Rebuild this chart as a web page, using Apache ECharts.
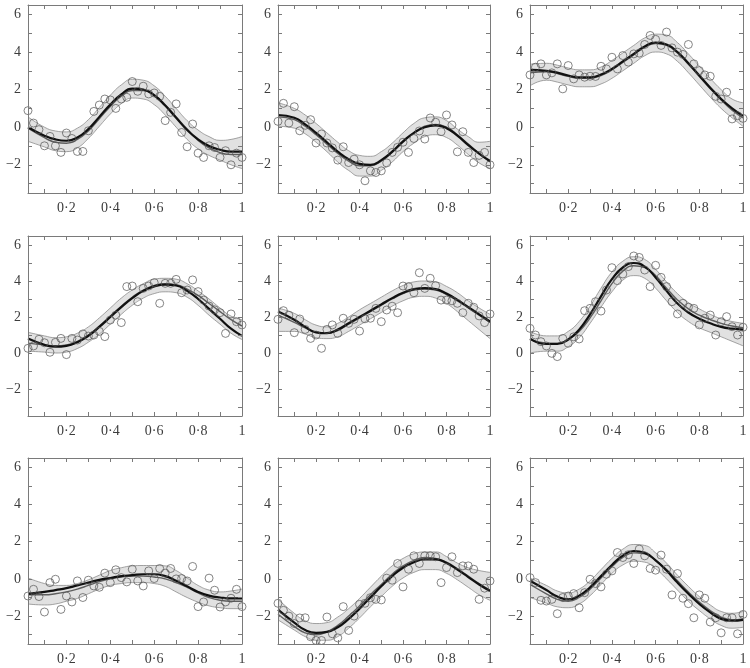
<!DOCTYPE html>
<html><head><meta charset="utf-8">
<script src="https://cdn.jsdelivr.net/npm/echarts@6/dist/echarts.min.js"></script>
<style>html,body{margin:0;padding:0;background:#fff}#c{width:750px;height:668px}</style>
</head><body><div id="c"></div>
<script>
// x positions of the observations (40 per panel)
const X_POINTS = [0.025,0.05,0.075,0.1,0.125,0.15,0.175,0.2,0.225,0.25,0.275,0.3,0.325,0.35,0.375,0.4,0.425,0.45,0.475,0.5,0.525,0.55,0.575,0.6,0.625,0.65,0.675,0.7,0.725,0.75,0.775,0.8,0.825,0.85,0.875,0.9,0.925,0.95,0.975,1.0];
// x positions where the curves / bands were read
const CURVE_X = [0.025,0.1,0.15,0.2,0.25,0.3,0.35,0.4,0.45,0.5,0.55,0.6,0.65,0.7,0.75,0.8,0.85,0.9,0.95,1.0];

const X_TICKS = [0.1,0.2,0.3,0.4,0.5,0.6,0.7,0.8,0.9,1.0];
const X_LABELS = [0.2,0.4,0.6,0.8,1];
const Y_TICKS = [-3,-2,-1,0,1,2,3,4,5,6];
const Y_LABELS = [-2,0,2,4,6];

// Panel 1
const P1_POINTS = [0.88,0.22,-0.13,-0.99,-0.49,-0.99,-1.34,-0.31,-0.6,-1.29,-1.29,-0.19,0.84,1.18,1.5,1.45,1.0,1.5,1.59,2.43,1.91,2.18,1.77,1.82,1.64,0.35,0.79,1.24,-0.28,-1.04,0.17,-1.38,-1.61,-0.99,-1.08,-1.61,-1.25,-2.0,-1.38,-1.61];
const P1_FIT = [0.0,-0.45,-0.65,-0.72,-0.55,-0.1,0.55,1.2,1.75,2.05,2.0,1.7,1.15,0.5,-0.15,-0.65,-1.0,-1.2,-1.3,-1.3];
const P1_TRUE = [-0.05,-0.55,-0.8,-0.85,-0.65,-0.2,0.45,1.1,1.65,1.95,1.95,1.7,1.2,0.55,-0.1,-0.7,-1.1,-1.35,-1.45,-1.45];
const P1_UPPER = [0.55,0.0,-0.2,-0.25,-0.05,0.4,1.05,1.7,2.25,2.55,2.5,2.2,1.65,1.0,0.35,-0.15,-0.5,-0.7,-0.65,-0.5];
const P1_LOWER = [-0.75,-1.05,-1.25,-1.3,-1.1,-0.6,0.05,0.7,1.25,1.55,1.5,1.2,0.65,0.0,-0.65,-1.15,-1.5,-1.75,-2.0,-2.2];

// Panel 2
const P2_POINTS = [0.31,1.27,0.22,1.09,-0.19,0.1,0.4,-0.84,-0.36,-0.84,-1.1,-1.75,-1.04,-1.88,-1.7,-2.0,-2.85,-2.32,-2.41,-2.32,-1.9,-1.34,-1.07,-0.8,-1.34,-0.6,-0.2,-0.63,0.49,0.26,-0.24,0.65,0.12,-1.31,-0.24,-1.34,-1.88,-1.5,-1.34,-2.0];
const P2_FIT = [0.65,0.5,0.15,-0.3,-0.8,-1.3,-1.7,-1.95,-2.0,-1.75,-1.3,-0.75,-0.3,0.0,0.1,-0.05,-0.45,-0.95,-1.4,-1.8];
const P2_TRUE = [0.55,0.4,0.05,-0.4,-0.9,-1.4,-1.8,-2.05,-2.05,-1.8,-1.35,-0.8,-0.3,0.05,0.15,0.0,-0.4,-0.9,-1.4,-1.85];
const P2_UPPER = [1.3,1.0,0.65,0.2,-0.3,-0.8,-1.25,-1.5,-1.55,-1.3,-0.85,-0.3,0.2,0.5,0.55,0.35,-0.1,-0.5,-0.8,-0.75];
const P2_LOWER = [0.05,-0.05,-0.35,-0.8,-1.3,-1.85,-2.3,-2.6,-2.6,-2.3,-1.85,-1.3,-0.85,-0.5,-0.4,-0.55,-0.95,-1.45,-1.9,-2.2];

// Panel 3
const P3_POINTS = [2.78,3.19,3.37,2.78,2.89,3.37,2.04,3.28,2.57,2.78,2.66,2.71,2.7,3.24,3.1,3.72,3.1,3.81,3.46,3.9,3.94,4.4,4.88,4.67,4.35,5.06,4.22,3.99,3.87,4.4,3.37,3.01,2.78,2.71,1.64,1.5,1.86,0.44,0.61,0.47];
const P3_FIT = [3.05,3.0,2.9,2.75,2.65,2.65,2.8,3.1,3.5,3.9,4.3,4.5,4.4,4.0,3.4,2.75,2.1,1.5,1.0,0.6];
const P3_TRUE = [2.9,2.95,2.85,2.7,2.6,2.6,2.75,3.05,3.45,3.85,4.25,4.45,4.35,3.95,3.35,2.7,2.05,1.45,0.9,0.5];
const P3_UPPER = [3.35,3.4,3.3,3.15,3.05,3.05,3.2,3.55,3.95,4.35,4.75,4.95,4.9,4.5,3.9,3.25,2.6,2.0,1.5,1.3];
const P3_LOWER = [2.2,2.5,2.4,2.25,2.15,2.15,2.3,2.6,3.0,3.4,3.8,4.0,3.9,3.5,2.9,2.25,1.6,1.0,0.5,0.05];

// Panel 4
const P4_POINTS = [0.26,0.39,0.76,0.57,0.04,0.59,0.81,-0.09,0.81,0.72,1.06,0.94,1.0,1.2,0.91,1.83,2.1,1.69,3.69,3.72,2.85,3.59,3.72,3.91,2.76,3.87,3.87,4.09,3.35,3.5,4.06,3.41,2.94,2.61,2.4,2.24,1.09,2.17,1.74,1.56];
const P4_FIT = [0.8,0.45,0.35,0.4,0.6,0.95,1.45,2.0,2.55,3.05,3.45,3.7,3.8,3.75,3.45,3.0,2.45,1.9,1.35,0.95];
const P4_TRUE = [0.55,0.45,0.4,0.45,0.65,1.0,1.5,2.05,2.6,3.1,3.5,3.75,3.85,3.8,3.55,3.2,2.75,2.3,1.85,1.5];
const P4_UPPER = [1.15,0.95,0.85,0.9,1.1,1.45,1.95,2.5,3.05,3.5,3.85,4.1,4.15,4.1,3.85,3.45,3.0,2.5,2.05,1.85];
const P4_LOWER = [0.1,0.05,0.0,0.05,0.25,0.6,1.05,1.6,2.15,2.65,3.05,3.3,3.4,3.35,3.1,2.65,2.1,1.6,1.1,0.75];

// Panel 5
const P5_POINTS = [1.87,2.35,2.1,1.13,1.89,1.31,0.81,1.0,0.26,1.31,1.56,1.09,1.93,1.65,1.87,1.22,1.9,1.93,2.48,1.74,2.39,2.6,2.24,3.72,3.69,3.35,4.46,3.59,4.15,3.74,2.94,2.94,2.9,2.76,2.24,2.76,2.54,2.06,1.69,2.17];
const P5_FIT = [2.3,1.85,1.45,1.15,1.1,1.3,1.65,2.0,2.35,2.7,3.05,3.35,3.55,3.6,3.55,3.3,2.95,2.55,2.15,1.75];
const P5_TRUE = [2.1,1.7,1.4,1.15,1.1,1.25,1.6,1.95,2.3,2.65,3.0,3.3,3.5,3.55,3.5,3.25,2.9,2.5,2.1,1.7];
const P5_UPPER = [2.5,2.2,1.85,1.55,1.45,1.65,2.0,2.4,2.75,3.1,3.45,3.75,3.95,4.0,3.95,3.7,3.35,2.9,2.5,2.15];
const P5_LOWER = [1.2,1.2,1.05,0.85,0.8,0.9,1.2,1.55,1.9,2.25,2.6,2.9,3.1,3.15,3.05,2.75,2.3,1.8,1.3,0.8];

// Panel 6
const P6_POINTS = [1.37,1.0,0.63,0.39,-0.02,-0.2,0.81,0.54,0.9,0.78,2.35,2.48,2.85,2.33,3.5,4.74,4.02,4.39,4.8,5.39,5.31,4.61,3.69,4.87,4.2,3.69,2.85,2.17,2.76,2.54,2.48,1.56,1.93,2.11,1.0,1.74,2.02,1.46,1.0,1.43];
const P6_FIT = [0.8,0.5,0.5,0.75,1.3,2.15,3.15,4.1,4.75,5.0,4.8,4.2,3.45,2.75,2.25,1.9,1.65,1.45,1.35,1.3];
const P6_TRUE = [0.75,0.55,0.55,0.75,1.2,1.95,2.9,3.85,4.55,4.85,4.75,4.3,3.6,2.95,2.45,2.1,1.85,1.65,1.5,1.4];
const P6_UPPER = [1.2,0.95,0.95,1.2,1.75,2.6,3.6,4.5,5.1,5.35,5.2,4.65,3.95,3.3,2.8,2.45,2.15,1.9,1.75,1.65];
const P6_LOWER = [0.0,0.1,0.1,0.35,0.85,1.65,2.55,3.4,4.05,4.3,4.15,3.6,2.9,2.25,1.75,1.4,1.15,0.9,0.65,0.4];

// Panel 7
const P7_POINTS = [-0.92,-0.56,-0.95,-1.78,-0.2,-0.02,-1.64,-0.92,-1.24,-0.11,-1.0,-0.07,-0.38,-0.45,0.31,-0.2,0.49,0.07,-0.16,0.52,-0.11,-0.38,0.43,0.02,0.56,0.31,0.56,0.0,0.02,-0.11,0.67,-1.49,-1.24,0.04,-0.61,-1.51,-1.24,-1.04,-0.56,-1.49];
const P7_FIT = [-0.8,-0.7,-0.6,-0.5,-0.35,-0.2,-0.05,0.05,0.15,0.2,0.25,0.25,0.15,-0.1,-0.4,-0.7,-0.9,-1.0,-1.05,-1.05];
const P7_TRUE = [-0.85,-0.85,-0.8,-0.7,-0.55,-0.35,-0.15,0.0,0.1,0.15,0.15,0.1,0.0,-0.2,-0.45,-0.75,-1.0,-1.15,-1.2,-1.2];
const P7_UPPER = [0.05,-0.25,-0.35,-0.35,-0.25,-0.05,0.2,0.45,0.6,0.7,0.72,0.72,0.7,0.45,0.05,-0.35,-0.6,-0.7,-0.65,-0.55];
const P7_LOWER = [-1.35,-1.4,-1.35,-1.2,-1.05,-0.8,-0.55,-0.35,-0.25,-0.2,-0.2,-0.25,-0.4,-0.7,-1.0,-1.25,-1.45,-1.55,-1.6,-1.6];

// Panel 8
const P8_POINTS = [-1.31,-1.69,-2.0,-2.4,-2.1,-2.09,-3.11,-3.31,-3.31,-2.05,-2.95,-3.17,-1.49,-2.77,-2.0,-1.37,-1.31,-1.01,-1.1,-1.13,0.04,-0.07,0.83,-0.43,0.52,1.24,0.83,1.24,1.24,1.19,-0.2,0.61,1.19,0.34,0.7,0.7,0.52,-1.1,-0.5,-0.11];
const P8_FIT = [-1.65,-2.35,-2.75,-2.9,-2.85,-2.6,-2.15,-1.6,-1.0,-0.4,0.15,0.6,0.9,1.05,1.05,0.85,0.5,0.1,-0.3,-0.65];
const P8_TRUE = [-1.9,-2.55,-2.9,-3.0,-2.85,-2.5,-2.0,-1.45,-0.85,-0.3,0.25,0.7,1.0,1.15,1.1,0.9,0.55,0.15,-0.25,-0.6];
const P8_UPPER = [-1.1,-1.85,-2.25,-2.4,-2.35,-2.05,-1.6,-1.05,-0.45,0.15,0.7,1.1,1.35,1.45,1.45,1.2,0.85,0.6,0.45,0.35];
const P8_LOWER = [-2.2,-2.75,-3.1,-3.3,-3.3,-3.1,-2.65,-2.1,-1.5,-0.95,-0.4,0.05,0.35,0.5,0.5,0.3,-0.05,-0.45,-0.85,-1.15];

// Panel 9
const P9_POINTS = [0.07,-0.2,-1.15,-1.19,-1.1,-1.87,-1.0,-0.92,-0.79,-1.55,-0.74,-0.02,-0.25,-0.43,0.25,0.43,1.42,1.15,1.3,0.83,1.6,1.24,0.56,0.47,1.28,0.52,-0.86,0.29,-1.04,-1.33,-2.09,-0.86,-1.04,-2.32,-2.09,-2.9,-2.09,-2.09,-2.95,-1.91];
const P9_FIT = [-0.1,-0.6,-0.95,-1.1,-0.9,-0.45,0.15,0.75,1.25,1.5,1.4,1.0,0.45,-0.2,-0.8,-1.35,-1.8,-2.15,-2.25,-2.2];
const P9_TRUE = [-0.3,-0.8,-1.1,-1.2,-1.0,-0.55,0.05,0.65,1.15,1.4,1.35,1.0,0.5,-0.1,-0.7,-1.25,-1.7,-2.05,-2.2,-2.15];
const P9_UPPER = [0.05,-0.35,-0.65,-0.75,-0.55,-0.1,0.5,1.1,1.6,1.85,1.8,1.4,0.85,0.2,-0.4,-0.95,-1.4,-1.75,-1.85,-1.75];
const P9_LOWER = [-1.0,-1.3,-1.5,-1.55,-1.35,-0.9,-0.3,0.3,0.75,0.95,0.9,0.55,0.0,-0.6,-1.2,-1.7,-2.15,-2.5,-2.65,-2.6];

const PANELS = [
  {pts:P1_POINTS, fit:P1_FIT, truth:P1_TRUE, up:P1_UPPER, lo:P1_LOWER},
  {pts:P2_POINTS, fit:P2_FIT, truth:P2_TRUE, up:P2_UPPER, lo:P2_LOWER},
  {pts:P3_POINTS, fit:P3_FIT, truth:P3_TRUE, up:P3_UPPER, lo:P3_LOWER},
  {pts:P4_POINTS, fit:P4_FIT, truth:P4_TRUE, up:P4_UPPER, lo:P4_LOWER},
  {pts:P5_POINTS, fit:P5_FIT, truth:P5_TRUE, up:P5_UPPER, lo:P5_LOWER},
  {pts:P6_POINTS, fit:P6_FIT, truth:P6_TRUE, up:P6_UPPER, lo:P6_LOWER},
  {pts:P7_POINTS, fit:P7_FIT, truth:P7_TRUE, up:P7_UPPER, lo:P7_LOWER},
  {pts:P8_POINTS, fit:P8_FIT, truth:P8_TRUE, up:P8_UPPER, lo:P8_LOWER},
  {pts:P9_POINTS, fit:P9_FIT, truth:P9_TRUE, up:P9_UPPER, lo:P9_LOWER}
];

const COLS = [{left:28,width:214},{left:278,width:212},{left:530,width:213}];
const ROWS = [{top:5,height:188},{top:236,height:180},{top:458,height:186}];

const FONT = "'Liberation Serif','DejaVu Serif',serif";
const AXIS_COLOR = '#7a7a7a';
const LABEL_COLOR = '#3c3c3c';

const grids = [], xAxes = [], yAxes = [], series = [];
PANELS.forEach((p, k) => {
  const r = Math.floor(k / 3), c = k % 3;
  grids.push({left: COLS[c].left, width: COLS[c].width, top: ROWS[r].top, height: ROWS[r].height});
  const lineStyle = {color: AXIS_COLOR, width: 1};
  const xBase = {
    gridIndex: k, type: 'value', min: 0.025, max: 1, z: 20,
    axisLine: {show: true, onZero: false, lineStyle},
    axisTick: {show: true, inside: true, length: 4, customValues: X_TICKS, lineStyle},
    splitLine: {show: false}
  };
  xAxes.push(Object.assign({}, xBase, {
    position: 'bottom',
    axisLabel: {show: true, customValues: X_LABELS, margin: 8, fontFamily: FONT, fontSize: 14, color: LABEL_COLOR,
      formatter: v => (Math.abs(v - 1) < 1e-9 ? '1' : v.toFixed(1).replace('.', '\u00B7'))}
  }));
  xAxes.push(Object.assign({}, xBase, {position: 'top', axisLabel: {show: false}}));
  const yBase = {
    gridIndex: k, type: 'value', min: -3.5, max: 6.5, z: 20,
    axisLine: {show: true, onZero: false, lineStyle},
    axisTick: {show: true, inside: true, length: 4, customValues: Y_TICKS, lineStyle},
    splitLine: {show: false}
  };
  yAxes.push(Object.assign({}, yBase, {
    position: 'left',
    axisLabel: {show: true, customValues: Y_LABELS, margin: 7, fontFamily: FONT, fontSize: 14, color: LABEL_COLOR,
      formatter: v => String(v).replace('-', '\u2212')}
  }));
  yAxes.push(Object.assign({}, yBase, {position: 'right', axisLabel: {show: false}}));

  const xi = 2 * k, yi = 2 * k;
  const common = {xAxisIndex: xi, yAxisIndex: yi, symbol: 'none', smooth: true, silent: true, animation: false};
  // band: grey fill below the upper edge, then white fill below the lower edge
  series.push(Object.assign({}, common, {
    type: 'line', z: 1,
    data: CURVE_X.map((x, i) => [x, p.up[i]]),
    lineStyle: {color: '#8c8c8c', width: 0.8},
    areaStyle: {color: '#e1e1e1', opacity: 1, origin: 'start'}
  }));
  series.push(Object.assign({}, common, {
    type: 'line', z: 1,
    data: CURVE_X.map((x, i) => [x, p.lo[i]]),
    lineStyle: {color: '#8c8c8c', width: 0.8},
    areaStyle: {color: '#ffffff', opacity: 1, origin: 'start'}
  }));
  series.push(Object.assign({}, common, {
    type: 'line', z: 3,
    data: CURVE_X.map((x, i) => [x, p.truth[i]]),
    lineStyle: {color: '#5e5e5e', width: 1.4}
  }));
  series.push(Object.assign({}, common, {
    type: 'line', z: 4,
    data: CURVE_X.map((x, i) => [x, p.fit[i]]),
    lineStyle: {color: '#111111', width: 2.2}
  }));
  series.push({
    type: 'scatter', xAxisIndex: xi, yAxisIndex: yi, z: 5, silent: true, animation: false,
    symbol: 'circle', symbolSize: 8,
    data: X_POINTS.map((x, i) => [x, p.pts[i]]),
    itemStyle: {color: 'rgba(255,255,255,0)', borderColor: '#555555', borderWidth: 0.9}
  });
});

const chart = echarts.init(document.getElementById('c'), null, {renderer: 'canvas'});
chart.setOption({
  backgroundColor: '#ffffff',
  animation: false,
  grid: grids,
  xAxis: xAxes,
  yAxis: yAxes,
  series: series
});
</script>
</body></html>
